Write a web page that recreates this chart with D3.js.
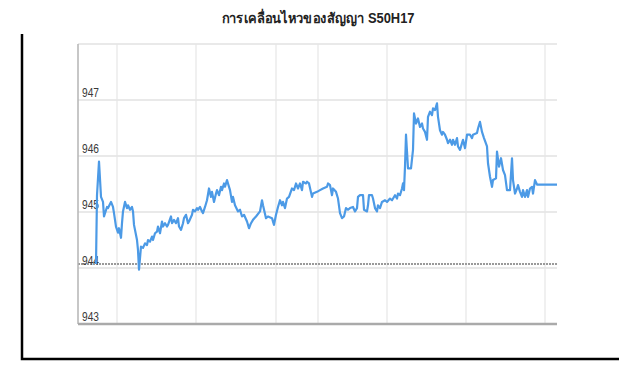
<!DOCTYPE html>
<html>
<head>
<meta charset="utf-8">
<script src="https://cdn.jsdelivr.net/npm/d3@7"></script>
<style>
  body { margin: 0; background: #fff; }
  text { font-family: "Liberation Sans Narrow", "Liberation Sans", Arial, sans-serif; }
</style>
</head>
<body>
<div id="chart"></div>
<script>
const title = "การเคลื่อนไหวของสัญญา S50H17";
const yTicks = [943, 944, 945, 946, 947];
const refPrice = 944.07;
// time steps where the vertical grid lines fall
const gridTimes = [39, 118, 198, 240, 309, 388, 467];
const times = [18,19,21,23,25,26,29,30,33,35,36,38,40,41,43,44,45,47,49,50,52,54,55,56,59,60,61,63,65,67,69,70,72,74,75,77,79,80,82,84,85,87,89,90,93,94,96,98,100,101,103,105,106,108,110,111,114,115,117,119,120,122,124,125,127,129,131,133,134,136,138,139,141,143,144,146,147,149,150,152,154,155,157,160,162,164,166,169,171,173,175,178,182,
  184,185,188,190,194,196,198,200,202,204,205,207,209,211,214,216,218,220,222,224,225,228,229,231,234,235,239,242,245,249,250,252,254,255,258,260,262,264,266,268,270,272,275,277,279,280,282,285,286,289,290,291,294,295,297,299,300,302,304,307,309,312,314,317,319,320,322,324,325,326,327,328,330,333,335,336,338,340,342,344,345,347,349,350,352,354,355,357,359,360,362,364,365,367,369,370,372,374,375,377,379,380,382,384,385,387,389,392,394,395,399,400,402,404,406,409,410,412,414,415,418,419,421,423,425,427,429,432,434,435,437,439,440,442,444,445,447,449,450,452,454,455,457,459,479];
const prices = [944.07,945.30,945.90,945.27,945.18,944.92,945.09,945.07,945.18,945.09,944.98,944.74,944.63,944.71,944.54,944.80,945.01,945.18,945.07,945.12,945.04,945.09,945.01,944.77,944.50,944.32,943.97,944.38,944.36,944.44,944.41,944.50,944.47,944.56,944.50,944.62,944.65,944.74,944.62,944.83,944.74,944.80,944.74,944.77,944.92,944.80,944.86,944.80,944.89,944.74,944.68,944.80,944.89,944.95,944.80,944.83,944.95,945.04,945.01,945.07,945.04,945.09,945.01,944.98,945.09,945.21,945.42,945.27,945.36,945.18,945.33,945.39,945.30,945.45,945.39,945.51,945.45,945.57,945.51,945.39,945.18,945.27,945.12,945.01,945.04,944.92,944.95,944.83,944.71,944.80,944.86,944.92,945.01,
  945.21,945.12,944.89,944.92,944.89,944.77,944.95,945.09,945.21,945.12,945.18,945.07,945.24,945.27,945.42,945.39,945.51,945.42,945.51,945.39,945.54,945.51,945.54,945.51,945.27,945.33,945.36,945.39,945.42,945.45,945.51,945.48,945.30,945.42,945.36,945.24,944.98,944.89,944.92,945.07,945.04,945.07,945.09,945.01,945.07,945.27,945.30,945.30,945.04,945.01,945.12,945.30,945.30,945.24,945.07,945.01,945.12,945.07,945.18,945.21,945.18,945.24,945.21,945.30,945.24,945.33,945.30,945.42,945.51,945.39,945.81,946.38,945.78,945.78,946.11,946.76,946.58,946.67,946.52,946.58,946.49,946.43,946.29,946.70,946.79,946.73,946.85,946.82,946.94,946.70,946.46,946.38,946.43,946.38,946.29,946.23,946.29,946.20,946.29,946.20,946.32,946.17,946.11,946.23,946.29,946.14,946.38,946.38,946.32,946.38,946.41,946.49,946.61,946.43,946.32,946.17,945.87,945.63,945.45,945.57,945.60,946.08,945.81,945.96,945.75,945.66,945.39,945.39,945.96,945.57,945.33,945.42,945.48,945.36,945.27,945.39,945.27,945.39,945.27,945.42,945.45,945.33,945.57,945.49,945.49];

const W = 640, H = 390;
const margin = {top: 44, right: 83, bottom: 66, left: 78};
const width = W - margin.left - margin.right;
const height = H - margin.top - margin.bottom;

const svg = d3.select("#chart").append("svg")
    .attr("width", W).attr("height", H);

// outer frame (left + bottom)
svg.append("path")
    .attr("d", "M22,34 V359 H619")
    .attr("fill", "none").attr("stroke", "#000").attr("stroke-width", 2.5);

svg.append("text")
    .attr("x", 318).attr("y", 23)
    .attr("text-anchor", "middle")
    .attr("font-size", 14).attr("font-weight", "bold").attr("fill", "#222")
    .attr("textLength", 193).attr("lengthAdjust", "spacingAndGlyphs")
    .text(title);

const g = svg.append("g").attr("transform", `translate(${margin.left},${margin.top})`);

const x = d3.scaleLinear().domain([0, 479]).range([0, width]);
const y = d3.scaleLinear().domain([943, 948]).range([height, 0]);

// horizontal grid
g.selectAll(".hgrid").data(yTicks.slice(1).concat([948])).enter().append("line")
    .attr("x1", 0).attr("x2", width)
    .attr("y1", d => y(d)).attr("y2", d => y(d))
    .attr("stroke", "#e2e2e2").attr("stroke-width", 1.5);

// vertical grid
g.selectAll(".vgrid").data(gridTimes).enter().append("line")
    .attr("x1", d => x(d)).attr("x2", d => x(d))
    .attr("y1", 0).attr("y2", height)
    .attr("stroke", "#e6e6e6").attr("stroke-width", 1.2);

// reference price line
g.append("line")
    .attr("x1", 0).attr("x2", width)
    .attr("y1", y(refPrice)).attr("y2", y(refPrice))
    .attr("stroke", "#9a9a9a").attr("stroke-width", 2)
    .attr("stroke-dasharray", "2,1");

// axes lines
g.append("line").attr("x1", 0).attr("x2", 0).attr("y1", 0).attr("y2", height)
    .attr("stroke", "#b5b5b5").attr("stroke-width", 1.5);
g.append("line").attr("x1", 0).attr("x2", width).attr("y1", height).attr("y2", height)
    .attr("stroke", "#aaa").attr("stroke-width", 2.5);

// y labels sit inside the plot, above their grid line
g.selectAll(".ylab").data(yTicks).enter().append("text")
    .attr("x", 4).attr("y", d => y(d) - 3)
    .attr("font-size", 13).attr("fill", "#3a3a3a")
    .attr("textLength", 17).attr("lengthAdjust", "spacingAndGlyphs")
    .text(d => d);

const line = d3.line()
    .x((d, i) => x(times[i]))
    .y(d => y(d));

g.append("path")
    .datum(prices)
    .attr("fill", "none")
    .attr("stroke", "#4c9ae6")
    .attr("stroke-width", 2.2)
    .attr("stroke-linejoin", "round")
    .attr("d", line);
</script>
</body>
</html>
